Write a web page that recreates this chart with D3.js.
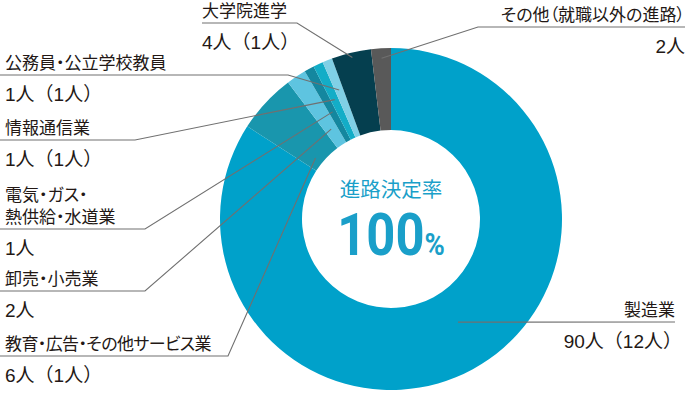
<!DOCTYPE html>
<html>
<head>
<meta charset="utf-8">
<script src="https://cdn.jsdelivr.net/npm/d3@7"></script>
<style>
  body { margin: 0; background: #fff; }
  text { font-family: "Liberation Sans", "Noto Sans CJK JP", sans-serif; fill: #231815; }
  text.title { font-feature-settings: "palt"; }
</style>
</head>
<body>
<script>
// chart data
var categories = ["製造業", "教育・広告・その他サービス業", "卸売・小売業", "電気・ガス・熱供給・水道業",
  "情報通信業", "公務員・公立学校教員", "大学院進学", "その他（就職以外の進路）"];
var counts = [90, 6, 2, 1, 1, 1, 4, 2];
var subCounts = [12, 1, null, null, 1, 1, 1, null];   // number in parentheses
var centerTitle = "進路決定率";
var centerValue = "100";

var colors = ["#00a1ca", "#1996ad", "#5ec4e0", "#14879f", "#13adc7", "#80d0e6", "#053f4f", "#595959"];

// svg size
var svgWidth = 690;
var svgHeight = 393;
var cx = 391, cy = 219;
var outerR = 171, innerR = 89;

var svg = d3.select("body").append("svg")
  .attr("width", svgWidth)
  .attr("height", svgHeight);

var pie = d3.pie().sort(null).value(function(d) { return d; });
var arcs = pie(counts);

var arc = d3.arc().innerRadius(innerR).outerRadius(outerR);

var donut = svg.append("g").attr("transform", "translate(" + cx + "," + cy + ")");
donut.selectAll("path")
  .data(arcs)
  .enter()
  .append("path")
  .attr("d", arc)
  .attr("fill", function(d, i) { return colors[i]; });

// label layout: side, text x, end of horizontal rule, rule y, leader radius, angle tweak (deg)
var layout = [
  {anchor: "end",   tx: 675, hx: null, ly: 322, r: 123, da: -4.4, lines: ["製造業"]},
  {anchor: "start", tx: 5,   hx: 228,  ly: 356, r: 97,  da: -4,   lines: ["教育・広告・その他サービス業"]},
  {anchor: "start", tx: 5,   hx: 145,  ly: 291, r: 108, da: 0,    lines: ["卸売・小売業"]},
  {anchor: "start", tx: 5,   hx: 145,  ly: 229, r: 122, da: 0,    lines: ["電気・ガス・", "熱供給・水道業"]},
  {anchor: "start", tx: 5,   hx: 135,  ly: 140, r: 132, da: 0,    lines: ["情報通信業"]},
  {anchor: "start", tx: 5,   hx: 288,  ly: 75,  r: 139, da: 0,    lines: ["公務員・公立学校教員"]},
  {anchor: "start", tx: 202, hx: 297,  ly: 23,  r: 166, da: 0,    lines: ["大学院進学"]},
  {anchor: "end",   tx: 685, hx: 478,  ly: 27,  r: 161, da: 0,    lines: ["その他（就職以外の進路）"]}
];

var labels = svg.append("g");

layout.forEach(function(l, i) {
  var a = (arcs[i].startAngle + arcs[i].endAngle) / 2 + l.da * Math.PI / 180;
  var px = cx + l.r * Math.sin(a);
  var py = cy - l.r * Math.cos(a);
  var x0 = l.anchor === "start" ? 0 : l.tx;
  if (l.anchor === "start" && l.tx > 100) x0 = l.tx;
  var pts = [[x0, l.ly]];
  if (l.hx !== null) pts.push([l.hx, l.ly]);
  pts.push([px, py]);

  labels.append("path")
    .attr("d", d3.line()(pts))
    .attr("fill", "none")
    .attr("stroke", "#707070")
    .attr("stroke-width", 1.1);

  l.lines.forEach(function(t, j) {
    labels.append("text")
      .attr("class", "title")
      .attr("x", l.tx)
      .attr("y", l.ly - 6 - (l.lines.length - 1 - j) * 22)
      .attr("text-anchor", l.anchor)
      .attr("font-size", 17)
      .attr("letter-spacing", l.lines[0].length > 12 ? -0.6 : 0)
      .text(t);
  });

  var hasSub = subCounts[i] !== null;
  var v = counts[i] + "人" + (hasSub ? "（" + subCounts[i] + "人）" : "");
  labels.append("text")
    .attr("x", l.tx + (l.anchor === "end" && hasSub ? 7 : 0))
    .attr("y", l.ly + 26)
    .attr("text-anchor", l.anchor)
    .attr("font-size", 19)
    .text(v);
});

// center text
svg.append("text")
  .attr("x", cx)
  .attr("y", 197)
  .attr("text-anchor", "middle")
  .attr("font-size", 20.5)
  .style("fill", "#1a9fc9")
  .style("font-family", "'Noto Sans CJK JP', sans-serif")
  .text(centerTitle);

var big = svg.append("text")
  .attr("transform", "translate(" + cx + ",255) scale(0.86,1)")
  .attr("text-anchor", "middle")
  .style("fill", "#1a9fc9")
  .style("font-family", "Roboto, sans-serif")
  .style("font-weight", 700);
big.append("tspan").attr("font-size", 59).text(centerValue);
big.append("tspan").attr("font-size", 32).text("%");
</script>
</body>
</html>
